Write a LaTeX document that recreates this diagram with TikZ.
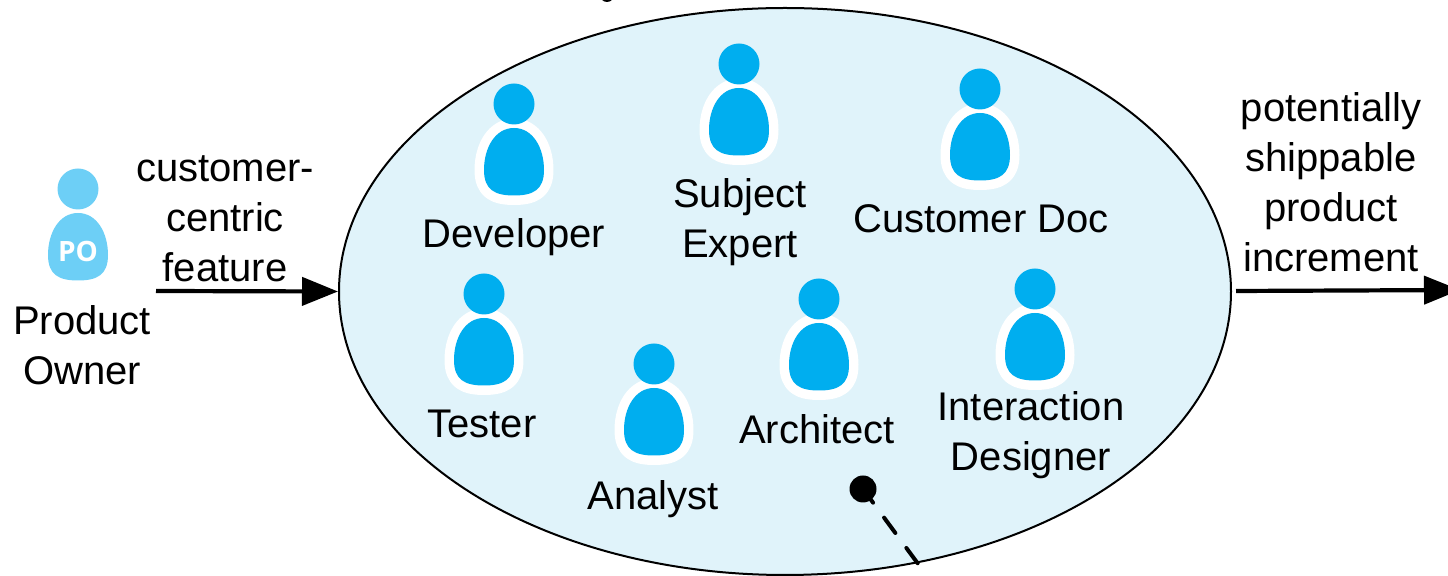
\documentclass[tikz,border=0pt]{standalone}
\usepackage{fontspec}
\setmainfont{Liberation Sans}
\newfontfamily\pofont{Open Sans}
\usetikzlibrary{arrows.meta,shapes.geometric}
\definecolor{teamfill}{HTML}{E0F3FA}
\definecolor{personblue}{HTML}{00AEEF}
\definecolor{ownerblue}{HTML}{6DCFF6}
\tikzset{
  x=0.5pt,y=-0.5pt,
  lbl/.style={font=\fontsize{20}{25}\selectfont,align=center,inner sep=0pt,text=black},
  flow/.style={line width=2.1pt,-{Triangle[length=18pt,width=14pt]}},
}
\newcommand{\bodypath}{(0,24) .. controls (19,24) and (30,44) .. (30,66) .. controls (30,86) and (19,91.5) .. (0,91.5) .. controls (-19,91.5) and (-30,86) .. (-30,66) .. controls (-30,44) and (-19,24) .. (0,24) -- cycle}
\newcommand{\teamperson}[3]{%
  \begin{scope}[shift={(#1,#2)}]
    \draw[white,line width=9.5pt,fill=white,line join=round] \bodypath;
    \fill[personblue] \bodypath;
    \fill[personblue] (0,0) coordinate (#3) circle[radius=20.5];
  \end{scope}}
\begin{document}
\begin{tikzpicture}
\useasboundingbox (0,0) rectangle (1448,576);
\begin{scope}
\clip (0,0) rectangle (1448,576);
\fill[black] (607,-5) circle[radius=7];
\node[draw=black,fill=teamfill,line width=1pt,ellipse,minimum width=446pt,minimum height=283.5pt,inner sep=0pt] (team) at (785,291.5) {};
\coordinate (dashend) at (920,566.5);
\coordinate (dot) at (863,489);
\fill[black] (dot) circle[radius=13.5];
\draw[line width=2pt,line cap=round,dash pattern=on 9.5pt off 9.3pt,dash phase=1pt] (dot) -- (dashend);
\teamperson{514}{104}{p1}
\teamperson{739}{64}{p2}
\teamperson{980}{89}{p3}
\teamperson{484}{294}{p4}
\teamperson{654}{364}{p5}
\teamperson{819}{299}{p6}
\teamperson{1035}{289}{p7}
\begin{scope}[shift={(78,189)}]
  \fill[ownerblue] (0,0) circle[radius=20.5];
  \fill[ownerblue] \bodypath;
  \node[font=\fontsize{14}{15}\selectfont\pofont\bfseries,text=white,inner sep=0pt] (po) at (0,62) {PO};
\end{scope}
\node[lbl] (developer) at (514,237.5) {Developer};
\node[lbl] (subject) at (740,222) {Subject\\Expert};
\node[lbl] (customer) at (981,219) {Customer Doc};
\node[lbl] (tester) at (482,424) {Tester};
\node[lbl] (analyst) at (653,499) {Analyst};
\node[lbl] (architect) at (817,429.5) {Architect};
\node[lbl] (designer) at (1031,435) {Interaction\\Designer};
\node[lbl] (owner) at (82,345) {Product\\Owner};
\node[lbl] (feature) at (225,219) {customer-\\centric\\feature};
\node[lbl] (increment) at (1331,182) {potentially\\shippable\\product\\increment};
\coordinate (flowin) at (156,291);
\coordinate (flowout) at (1236,291);
\coordinate (flowoutend) at (1460,290);
\draw[flow] (flowin) -- (team.west);
\draw[flow] (flowout) -- (flowoutend);
\end{scope}
\end{tikzpicture}
\end{document}
